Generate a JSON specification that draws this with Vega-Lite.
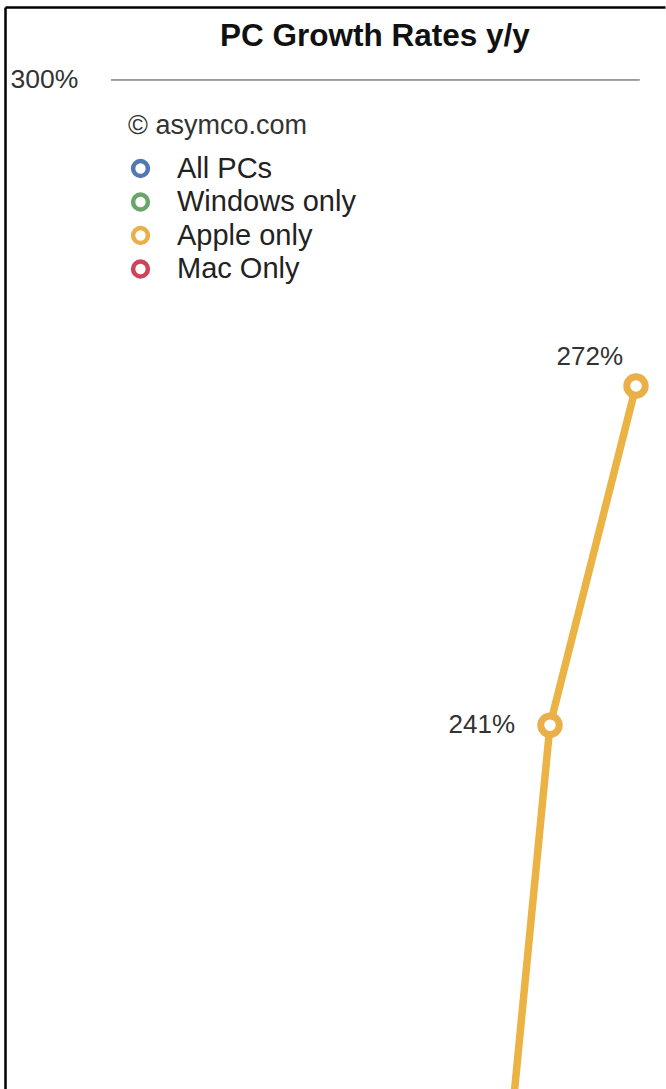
{
  "$schema": "https://vega.github.io/schema/vega-lite/v6.json",
  "width": 660,
  "height": 1082,
  "autosize": {"type": "none"},
  "padding": {"left": 5, "top": 7, "right": 1, "bottom": 0},
  "background": "white",
  "config": {"view": {"stroke": null}, "font": "Liberation Sans"},
  "title": {
    "text": "PC Growth Rates y/y",
    "fontSize": 31.5,
    "fontWeight": "bold",
    "font": "Liberation Sans",
    "color": "#111111",
    "anchor": "start",
    "frame": "group",
    "offset": 0,
    "dx": 215,
    "dy": 45
  },
  "data": {
    "values": [
      {"quarter": "Q3 2010", "t": 2010.5, "growth": 160, "series": "Apple only"},
      {"quarter": "Q4 2010", "t": 2010.75, "growth": 241, "series": "Apple only"},
      {"quarter": "Q1 2011", "t": 2011.0, "growth": 272, "series": "Apple only"}
    ]
  },
  "transform": [{"calculate": "format(datum.growth, 'd') + '%'", "as": "label"}],
  "layer": [
    {
      "mark": {"type": "rule", "color": "#9a9a9a", "strokeWidth": 1.5},
      "encoding": {
        "y": {"datum": 300, "type": "quantitative"},
        "x": {"datum": 2009.474, "type": "quantitative"},
        "x2": {"datum": 2011.01}
      }
    },
    {
      "mark": {"type": "line", "strokeWidth": 7.5, "clip": true, "color": "#ebb244"},
      "encoding": {
        "x": {
          "field": "t",
          "type": "quantitative",
          "scale": {"domain": [2009.1657, 2011.0843], "nice": false, "zero": false},
          "axis": {"orient": "top", "domain": true, "domainColor": "#000000", "domainWidth": 2.5, "ticks": false, "labels": false, "grid": false, "title": null}
        },
        "y": {
          "field": "growth",
          "type": "quantitative",
          "scale": {"domain": [207.74, 306.65], "nice": false, "zero": false},
          "axis": {"orient": "left", "values": [300], "domain": true, "domainColor": "#000000", "domainWidth": 2.5, "ticks": false, "grid": false, "labelExpr": "datum.value + '%'", "labelAlign": "left", "labelBaseline": "middle", "labelPadding": -5, "labelFontSize": 26.5, "labelColor": "#333333", "title": null}
        },
        "detail": {"field": "series"}
      }
    },
    {
      "mark": {"type": "point", "filled": false, "fill": "white", "fillOpacity": 1, "strokeWidth": 7, "size": 340, "opacity": 1, "clip": true},
      "encoding": {
        "x": {"field": "t", "type": "quantitative"},
        "y": {"field": "growth", "type": "quantitative"},
        "stroke": {
          "field": "series",
          "type": "nominal",
          "scale": {"domain": ["All PCs", "Windows only", "Apple only", "Mac Only"], "range": ["#5079b3", "#6aa66a", "#e9b04a", "#cf435a"]},
          "legend": {
            "title": "© asymco.com",
            "orient": "none",
            "legendX": 123,
            "legendY": 106,
            "padding": 0,
            "titleFont": "Liberation Sans",
            "titleFontSize": 27,
            "titleFontWeight": "normal",
            "titleColor": "#333333",
            "titlePadding": 14,
            "titleLimit": 0,
            "labelFont": "Liberation Sans",
            "labelFontSize": 29,
            "labelColor": "#222222",
            "labelOffset": 22,
            "labelLimit": 0,
            "symbolType": "circle",
            "symbolSize": 220,
            "symbolStrokeWidth": 4.5,
            "symbolFillColor": "white",
            "symbolOffset": -2,
            "rowPadding": 0.5
          }
        }
      }
    },
    {
      "transform": [{"filter": "datum.growth == 272"}],
      "mark": {"type": "text", "align": "right", "baseline": "middle", "dx": -13, "dy": -29, "fontSize": 26, "color": "#333333", "clip": true},
      "encoding": {
        "x": {"field": "t", "type": "quantitative"},
        "y": {"field": "growth", "type": "quantitative"},
        "text": {"field": "label"}
      }
    },
    {
      "transform": [{"filter": "datum.growth == 241"}],
      "mark": {"type": "text", "align": "right", "baseline": "middle", "dx": -35, "dy": 0, "fontSize": 26, "color": "#333333", "clip": true},
      "encoding": {
        "x": {"field": "t", "type": "quantitative"},
        "y": {"field": "growth", "type": "quantitative"},
        "text": {"field": "label"}
      }
    }
  ]
}
